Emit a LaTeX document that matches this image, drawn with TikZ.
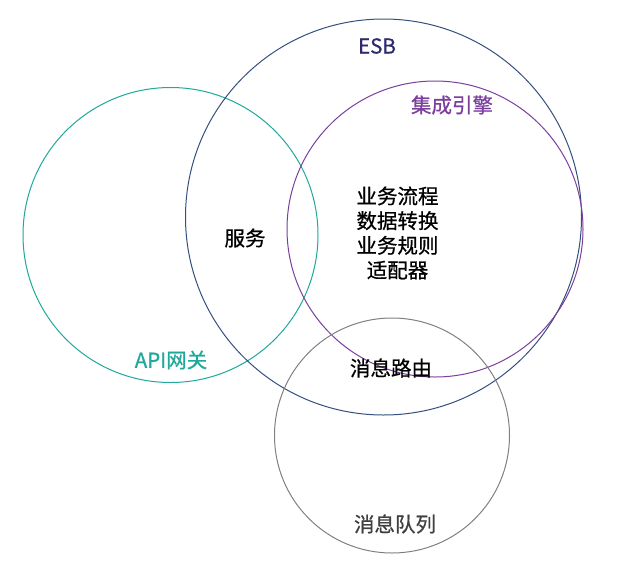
\documentclass[tikz,border=0pt]{standalone}
\usepackage{fontspec}
\setmainfont[FakeBold=0.7]{Noto Sans CJK SC}
\usetikzlibrary{positioning}
\definecolor{esbblue}{HTML}{34507F}
\definecolor{esbtext}{HTML}{2E2A6E}
\definecolor{engine}{HTML}{7B3F9E}
\definecolor{gateway}{HTML}{1FA89B}
\definecolor{queue}{HTML}{808080}

\begin{document}
\begin{tikzpicture}[x=1pt, y=-1pt,
        ring/.style={draw, circle, line width=1pt, inner sep=0pt},
        label/.style={font=\fontsize{20.5}{24.7}\selectfont, align=center, inner sep=0pt}]
        \useasboundingbox (0,0) rectangle (624,563);

        % Circles for the components
        \node[ring, draw=gateway, minimum size=295pt] (api) at (170.5,235) {};
        \node[ring, draw=esbblue, minimum size=396pt] (esb) at (383.5,217) {};
        \node[ring, draw=engine, minimum size=296pt] (engine) at (435,229) {};
        \node[ring, draw=queue, minimum size=235pt] (mq) at (392,435.5) {};

        % Labels for the circles
        \node[label, esbtext] (esbname) at (377,46) {ESB};
        \node[label, engine] (enginename) at (452,105) {集成引擎};
        \node[label, gateway] (apiname) at (171,360) {API网关};
        \node[label, black!75] (mqname) at (395,524) {消息队列};

        % Labels for the overlaps
        \node[label] (service) at (245,238) {服务};
        \node[label] (core) at (397.5,233) {业务流程\\数据转换\\业务规则\\适配器};
        \node[label] (routing) at (391,368) {消息路由};
    \end{tikzpicture}
\end{document}
